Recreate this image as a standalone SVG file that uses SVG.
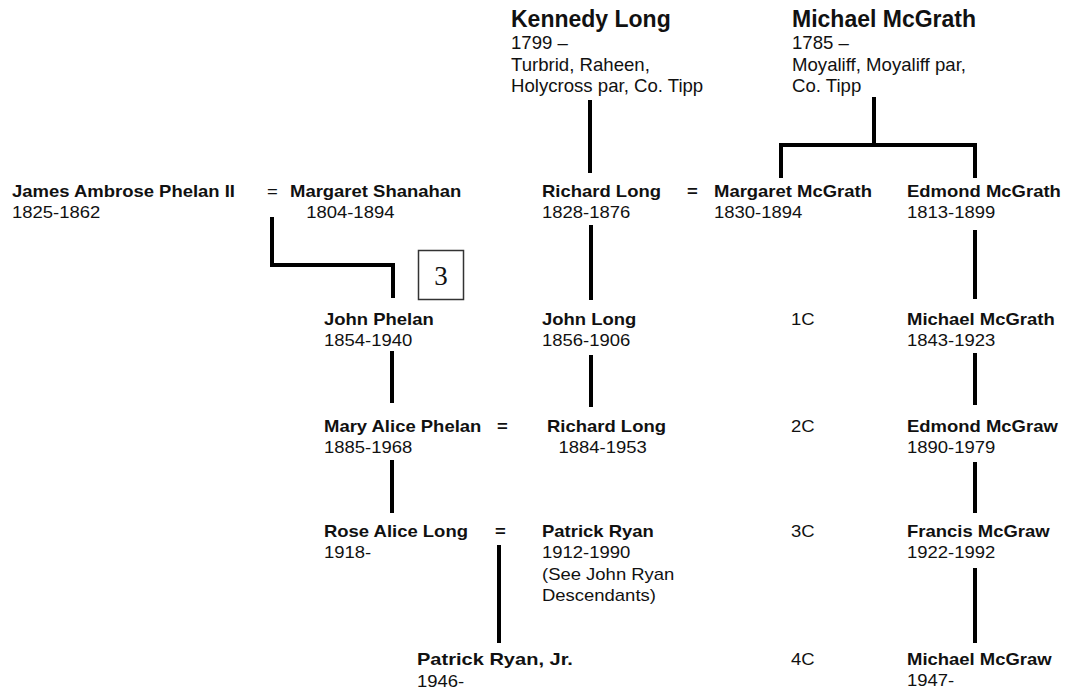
<svg xmlns="http://www.w3.org/2000/svg" width="1065" height="692" viewBox="0 0 1065 692">
<style>
text{font-family:"Liberation Sans",Arial,sans-serif;fill:#111}
.t{font-size:23px;font-weight:bold}
.tt{font-size:18.6px}
.nm{font-size:16px;font-weight:bold;transform:scale(1.155,1)}
.dt{font-size:16px;transform:scale(1.155,1)}
.eq{font-size:16px;transform:scale(1.155,1)}
.eqb{font-size:16px;font-weight:bold;transform:scale(1.155,1)}
.ln{fill:none;stroke:#000;stroke-width:4;stroke-linejoin:miter}
.box{fill:#fff;stroke:#333;stroke-width:1.5}
.num{font-family:"Liberation Serif","Times New Roman",serif;font-size:27px;text-anchor:middle}
</style>
<g id="connectors">
<path class="ln" d="M590,100V173"/>
<path class="ln" d="M874,97V145M781,178V145H975V178"/>
<path class="ln" d="M272,217V265H393V298"/>
<path class="ln" d="M591,225V300"/>
<path class="ln" d="M975,230V299"/>
<path class="ln" d="M392,351V403"/>
<path class="ln" d="M591,355V407"/>
<path class="ln" d="M975,353V405"/>
<path class="ln" d="M392,460V513"/>
<path class="ln" d="M975,462V513"/>
<path class="ln" d="M499,545V643"/>
<path class="ln" d="M975,568V643"/>
</g>
<g id="box3">
<rect class="box" x="418.5" y="250.5" width="45" height="49"/>
<text class="num" x="441" y="285">3</text>
</g>
<g id="kennedy-long" transform="translate(511,0)">
<text class="t" y="27">Kennedy Long</text>
<text class="tt" y="49">1799 –</text>
<text class="tt" y="71">Turbrid, Raheen,</text>
<text class="tt" y="92">Holycross par, Co. Tipp</text>
</g>
<g id="michael-mcgrath-1785" transform="translate(792,0)">
<text class="t" y="27">Michael McGrath</text>
<text class="tt" y="49">1785 –</text>
<text class="tt" y="71">Moyaliff, Moyaliff par,</text>
<text class="tt" y="92">Co. Tipp</text>
</g>
<g id="james-ambrose-phelan" transform="translate(12,197)">
<text class="nm">James Ambrose Phelan II</text>
<text class="dt" y="21">1825-1862</text>
</g>
<g id="eq1" transform="translate(267,197)"><text class="eq">=</text></g>
<g id="margaret-shanahan" transform="translate(290,197)">
<text class="nm">Margaret Shanahan</text>
<text class="dt" x="14" y="21">1804-1894</text>
</g>
<g id="richard-long-1828" transform="translate(542,197)">
<text class="nm">Richard Long</text>
<text class="dt" y="21">1828-1876</text>
</g>
<g id="eq2" transform="translate(687,197)"><text class="eqb">=</text></g>
<g id="margaret-mcgrath" transform="translate(714,197)">
<text class="nm">Margaret McGrath</text>
<text class="dt" y="21">1830-1894</text>
</g>
<g id="edmond-mcgrath" transform="translate(907,197)">
<text class="nm">Edmond McGrath</text>
<text class="dt" y="21">1813-1899</text>
</g>
<g id="john-phelan" transform="translate(324,325)">
<text class="nm">John Phelan</text>
<text class="dt" y="21">1854-1940</text>
</g>
<g id="john-long" transform="translate(542,325)">
<text class="nm">John Long</text>
<text class="dt" y="21">1856-1906</text>
</g>
<g id="c1" transform="translate(791,325)"><text class="dt">1C</text></g>
<g id="michael-mcgrath-1843" transform="translate(907,325)">
<text class="nm">Michael McGrath</text>
<text class="dt" y="21">1843-1923</text>
</g>
<g id="mary-alice-phelan" transform="translate(324,432)">
<text class="nm">Mary Alice Phelan</text>
<text class="dt" y="21">1885-1968</text>
</g>
<g id="eq3" transform="translate(497,432)"><text class="eqb">=</text></g>
<g id="richard-long-1884" transform="translate(547,432)">
<text class="nm">Richard Long</text>
<text class="dt" x="10" y="21">1884-1953</text>
</g>
<g id="c2" transform="translate(791,432)"><text class="dt">2C</text></g>
<g id="edmond-mcgraw" transform="translate(907,432)">
<text class="nm">Edmond McGraw</text>
<text class="dt" y="21">1890-1979</text>
</g>
<g id="rose-alice-long" transform="translate(324,537)">
<text class="nm">Rose Alice Long</text>
<text class="dt" y="21">1918-</text>
</g>
<g id="eq4" transform="translate(495,537)"><text class="eqb">=</text></g>
<g id="patrick-ryan" transform="translate(542,537)">
<text class="nm">Patrick Ryan</text>
<text class="dt" y="21">1912-1990</text>
<text class="dt" y="43">(See John Ryan</text>
<text class="dt" y="64">Descendants)</text>
</g>
<g id="c3" transform="translate(791,537)"><text class="dt">3C</text></g>
<g id="francis-mcgraw" transform="translate(907,537)">
<text class="nm">Francis McGraw</text>
<text class="dt" y="21">1922-1992</text>
</g>
<g id="patrick-ryan-jr" transform="translate(417,665)">
<text class="nm" textLength="135" lengthAdjust="spacingAndGlyphs">Patrick Ryan, Jr.</text>
<text class="dt" y="22">1946-</text>
</g>
<g id="c4" transform="translate(791,665)"><text class="dt">4C</text></g>
<g id="michael-mcgraw" transform="translate(907,665)">
<text class="nm">Michael McGraw</text>
<text class="dt" y="21">1947-</text>
</g>
</svg>
